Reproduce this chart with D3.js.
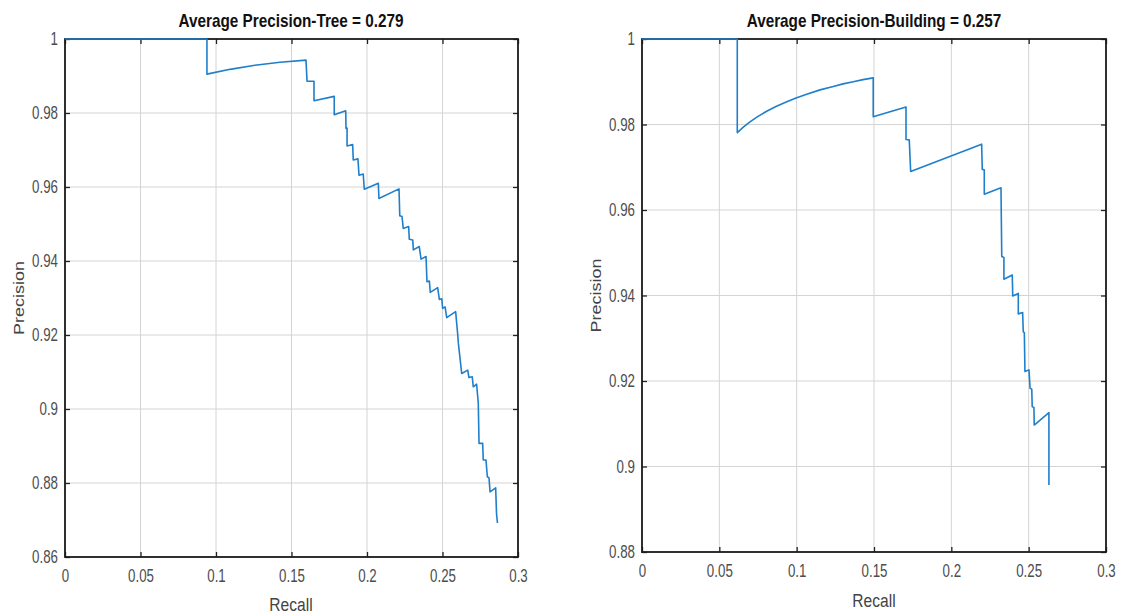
<!DOCTYPE html>
<html>
<head>
<meta charset="utf-8">
<script src="https://cdn.jsdelivr.net/npm/d3@7"></script>
<style>
  html, body { margin: 0; padding: 0; background: #fff; }
  svg { display: block; }
  text { font-family: "Liberation Sans", Arial, Helvetica, sans-serif; }
</style>
</head>
<body>
<svg id="chart" width="1132" height="616"></svg>
<script>
// ---------------- data ----------------
const titles = ["Average Precision-Tree = 0.279", "Average Precision-Building = 0.257"];
const xLabel = "Recall";
const yLabel = "Precision";

const xTicks = [0, 0.05, 0.1, 0.15, 0.2, 0.25, 0.3];
const yTicksTree = [0.86, 0.88, 0.9, 0.92, 0.94, 0.96, 0.98, 1];
const yTicksBuilding = [0.88, 0.9, 0.92, 0.94, 0.96, 0.98, 1];

// Tree PR curve (recall)
const treeRecall = [
  0, 0.0940, 0.0940, 0.1093, 0.1258, 0.1424, 0.1596, 0.1603, 0.1649, 0.1649,
  0.1783, 0.1783, 0.1859, 0.1861, 0.1868, 0.1868, 0.1905, 0.1909, 0.1940, 0.1947,
  0.1975, 0.1982, 0.2075, 0.2079, 0.2212, 0.2217, 0.2232, 0.2240, 0.2276, 0.2280,
  0.2303, 0.2307, 0.2346, 0.2358, 0.2391, 0.2397, 0.2413, 0.2419, 0.2468, 0.2479,
  0.2495, 0.2501, 0.2517, 0.2528, 0.2587, 0.2601, 0.2605, 0.2621, 0.2627, 0.2667,
  0.2675, 0.2697, 0.2704, 0.2726, 0.2737, 0.2742, 0.2766, 0.2770, 0.2788, 0.2797,
  0.2808, 0.2815, 0.2852, 0.2858, 0.2864
];
// Tree PR curve (precision)
const treePrecision = [
  1, 1, 0.9905, 0.9918, 0.9929, 0.9937, 0.9943, 0.9886, 0.9886, 0.9833,
  0.9845, 0.9795, 0.9806, 0.9758, 0.9759, 0.9711, 0.9715, 0.9673, 0.9676, 0.9632,
  0.9635, 0.9594, 0.9610, 0.9569, 0.9595, 0.9522, 0.9520, 0.9488, 0.9493, 0.9459,
  0.9457, 0.9430, 0.9439, 0.9405, 0.9412, 0.9344, 0.9346, 0.9315, 0.9328, 0.9296,
  0.9298, 0.9272, 0.9276, 0.9247, 0.9263, 0.9200, 0.9178, 0.9119, 0.9096, 0.9105,
  0.9085, 0.9087, 0.9060, 0.9067, 0.9015, 0.8907, 0.8907, 0.8862, 0.8862, 0.8817,
  0.8814, 0.8776, 0.8787, 0.8716, 0.8692
];

// Building PR curve (recall)
const buildingRecall = [
  0, 0.0616, 0.0616, 0.0634, 0.0655, 0.0698, 0.0750, 0.0806, 0.0866, 0.0936,
  0.0996, 0.1065, 0.1151, 0.1237, 0.1300, 0.1366, 0.1429, 0.1495,
  0.1495, 0.1707, 0.1707, 0.1728, 0.1737, 0.2196, 0.2200, 0.2213, 0.2213, 0.2321,
  0.2326, 0.2340, 0.2340, 0.2394, 0.2397, 0.2433, 0.2433, 0.2461, 0.2465, 0.2472,
  0.2476, 0.2502, 0.2509, 0.2520, 0.2523, 0.2534, 0.2536, 0.2631, 0.2631
];
// Building PR curve (precision)
const buildingPrecision = [
  1, 1, 0.9781, 0.9787, 0.9794, 0.9806, 0.9819, 0.9831, 0.9842, 0.9853,
  0.9862, 0.9871, 0.9881, 0.9889, 0.9895, 0.9900, 0.9905, 0.9909,
  0.9818, 0.9841, 0.9765, 0.9764, 0.9690, 0.9754, 0.9695, 0.9694, 0.9637, 0.9652,
  0.9491, 0.9489, 0.9438, 0.9448, 0.9399, 0.9405, 0.9357, 0.9360, 0.9315, 0.9313,
  0.9222, 0.9226, 0.9183, 0.9181, 0.9140, 0.9138, 0.9097, 0.9126, 0.8957
];

// ---------------- drawing ----------------
const svg = d3.select("#chart");

const panels = [
  { title: titles[0], rx: treeRecall, py: treePrecision, yTicks: yTicksTree,
    yDomain: [0.86, 1], left: 65, right: 518, top: 39, bottom: 557,
    titleX: 291, xLabelX: 291, xLabelY: 611, yLabelX: 24 },
  { title: titles[1], rx: buildingRecall, py: buildingPrecision, yTicks: yTicksBuilding,
    yDomain: [0.88, 1], left: 642, right: 1106, top: 39, bottom: 552,
    titleX: 874, xLabelX: 874, xLabelY: 607, yLabelX: 601 }
];

const tickFmt = d => (d === 0 ? "0" : d === 1 ? "1" : String(+d.toFixed(2)));
const SX = 0.74;     // horizontal squeeze of tick labels
const tickFont = 18;

panels.forEach(p => {
  const x = d3.scaleLinear().domain([0, 0.3]).range([p.left, p.right]);
  const y = d3.scaleLinear().domain(p.yDomain).range([p.bottom, p.top]);
  const g = svg.append("g");

  // grid
  g.append("g").selectAll("line").data(xTicks.slice(1, -1)).join("line")
    .attr("x1", d => x(d)).attr("x2", d => x(d))
    .attr("y1", p.top).attr("y2", p.bottom)
    .attr("stroke", "#d4d4d4").attr("stroke-width", 1);
  g.append("g").selectAll("line").data(p.yTicks.slice(1, -1)).join("line")
    .attr("y1", d => y(d)).attr("y2", d => y(d))
    .attr("x1", p.left).attr("x2", p.right)
    .attr("stroke", "#d4d4d4").attr("stroke-width", 1);

  // axes (ticks inside, labels outside)
  const bottomAxis = d3.axisBottom(x).tickValues(xTicks).tickFormat(tickFmt).tickSize(-5).tickPadding(12);
  const leftAxis = d3.axisLeft(y).tickValues(p.yTicks).tickFormat(tickFmt).tickSize(-5);
  const topAxis = d3.axisTop(x).tickValues(xTicks).tickFormat("").tickSize(-5);
  const rightAxis = d3.axisRight(y).tickValues(p.yTicks).tickFormat("").tickSize(-5);

  const styleAxis = sel => {
    sel.select(".domain").remove();
    sel.selectAll(".tick line").attr("stroke", "#222").attr("stroke-width", 1.3);
    sel.selectAll(".tick text").attr("fill", "#4d4d4d").attr("font-size", tickFont)
      .style("font-family", '"Liberation Sans", Arial, Helvetica, sans-serif');
  };
  g.append("g").attr("transform", `translate(0,${p.bottom})`).call(bottomAxis).call(styleAxis)
    .selectAll(".tick text").attr("transform", `scale(${SX},1)`);
  g.append("g").attr("transform", `translate(${p.left},0)`).call(leftAxis).call(styleAxis)
    .selectAll(".tick text").attr("x", -7 / SX).attr("transform", `scale(${SX},1)`);
  g.append("g").attr("transform", `translate(0,${p.top})`).call(topAxis).call(styleAxis);
  g.append("g").attr("transform", `translate(${p.right},0)`).call(rightAxis).call(styleAxis);

  // box
  g.append("rect").attr("x", p.left).attr("y", p.top)
    .attr("width", p.right - p.left).attr("height", p.bottom - p.top)
    .attr("fill", "none").attr("stroke", "#1a1a1a").attr("stroke-width", 1.8);

  // curve (drawn over the box, as in the reference)
  const pts = p.rx.map((r, i) => [r, p.py[i]]);
  g.append("path").datum(pts)
    .attr("fill", "none").attr("stroke", "#1f7fcb").attr("stroke-width", 1.6)
    .attr("stroke-linejoin", "round")
    .attr("d", d3.line().x(d => x(d[0])).y(d => y(d[1])));

  // title
  g.append("g").attr("transform", `translate(${p.titleX},27) scale(0.85,1)`)
    .append("text").attr("text-anchor", "middle")
    .attr("font-size", 18).attr("font-weight", "bold").attr("fill", "#111").text(p.title);

  // x label
  g.append("g").attr("transform", `translate(${p.xLabelX},${p.xLabelY}) scale(0.82,1)`)
    .append("text").attr("text-anchor", "middle")
    .attr("font-size", 19).attr("fill", "#444").text(xLabel);

  // y label (rotated; squeeze applies across the glyphs)
  g.append("g").attr("transform", `translate(${p.yLabelX},${(p.top + p.bottom) / 2}) rotate(-90) scale(1,0.82)`)
    .append("text").attr("text-anchor", "middle")
    .attr("font-size", 18).attr("fill", "#444").text(yLabel);
});
</script>
</body>
</html>
